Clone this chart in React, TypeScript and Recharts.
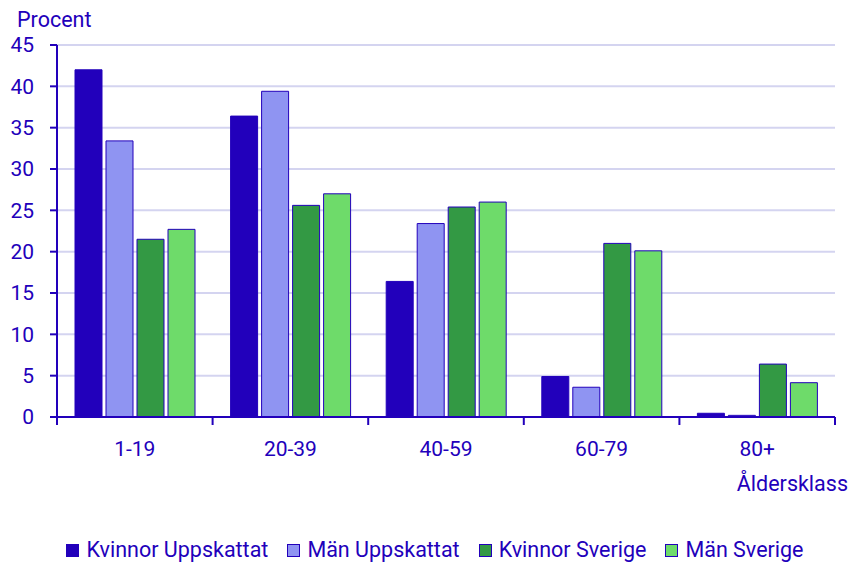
import { BarChart, Bar, XAxis, YAxis, CartesianGrid, Legend } from "recharts";

const ageClasses = ["1-19", "20-39", "40-59", "60-79", "80+"];
const womenEstimated = [42.0, 36.4, 16.4, 4.9, 0.45];
const menEstimated = [33.4, 39.4, 23.4, 3.6, 0.2];
const womenSweden = [21.5, 25.6, 25.4, 21.0, 6.4];
const menSweden = [22.7, 27.0, 26.0, 20.1, 4.15];
const yTicks = [0, 5, 10, 15, 20, 25, 30, 35, 40, 45];

const seriesNames = ["Kvinnor Uppskattat", "Män Uppskattat", "Kvinnor Sverige", "Män Sverige"];
const seriesColors = ["#2200bb", "#8f94f2", "#339944", "#6edb6a"];

const data = ageClasses.map((age, i) => ({
  age,
  kvU: womenEstimated[i],
  manU: menEstimated[i],
  kvS: womenSweden[i],
  manS: menSweden[i],
}));
const keys = ["kvU", "manU", "kvS", "manS"];

const INK = "#2200bb";
const GRID = "#d4d4f0";
const FONT = "Roboto, sans-serif";
const FS = 21;

function XTick(props: any) {
  const { x, y, payload, index } = props;
  const half = payload?.offset ?? 77.8;
  return (
    <g>
      <line x1={x - half} x2={x - half} y1={y} y2={y + 8} stroke={INK} strokeWidth={2} />
      {index === ageClasses.length - 1 && (
        <line x1={x + half} x2={x + half} y1={y} y2={y + 8} stroke={INK} strokeWidth={2} />
      )}
      <text x={x} y={y + 39} textAnchor="middle" fill={INK} fontSize={FS} fontFamily={FONT}>
        {payload.value}
      </text>
    </g>
  );
}

function LegendBox() {
  return (
    <div
      style={{
        height: 50,
        display: "flex",
        justifyContent: "center",
        alignItems: "flex-end",
        paddingLeft: 35,
        boxSizing: "border-box",
        fontFamily: FONT,
        fontSize: 21.5,
        color: INK,
      }}
    >
      {seriesNames.map((n, i) => (
        <div key={n} style={{ display: "flex", alignItems: "center", marginLeft: i ? 19 : 0, lineHeight: "26px" }}>
          <span
            style={{
              width: 13,
              height: 13,
              background: seriesColors[i],
              border: `1px solid ${INK}`,
              boxSizing: "border-box",
              marginRight: 7,
              display: "inline-block",
            }}
          />
          {n}
        </div>
      ))}
    </div>
  );
}

export default function App() {
  return (
    <div style={{ position: "absolute", left: 0, top: 0, background: "#fff" }}>
      <BarChart
        width={858}
        height={563}
        data={data}
        margin={{ top: 45, right: 23, left: 0, bottom: 0 }}
        barCategoryGap={18}
        barGap={4}
      >
        <CartesianGrid vertical={false} stroke={GRID} strokeWidth={2} />
        <XAxis
          dataKey="age"
          height={96}
          tickLine={false}
          tickSize={0}
          tickMargin={0}
          axisLine={{ stroke: INK, strokeWidth: 2 }}
          tick={<XTick />}
          interval={0}
          label={({ viewBox }: any) => (
            <text
              x={viewBox.x + viewBox.width + 13}
              y={viewBox.y + 74}
              textAnchor="end"
              fill={INK}
              fontSize={21.5}
              fontFamily={FONT}
            >
              Åldersklass
            </text>
          )}
        />
        <YAxis
          width={57}
          domain={[0, 45]}
          ticks={yTicks}
          interval={0}
          tickSize={7}
          tickMargin={16}
          tickLine={{ stroke: INK, strokeWidth: 2 }}
          axisLine={{ stroke: INK, strokeWidth: 2 }}
          tick={{ fill: INK, fontSize: FS, fontFamily: FONT }}
          label={({ viewBox }: any) => (
            <text x={viewBox.x + 17} y={viewBox.y - 18} fill={INK} fontSize={21.5} fontFamily={FONT}>
              Procent
            </text>
          )}
        />
        <YAxis
          yAxisId="right"
          orientation="right"
          width={0}
          domain={[0, 45]}
          tick={false}
          tickLine={false}
          axisLine={{ stroke: GRID, strokeWidth: 2 }}
        />
        <Legend verticalAlign="bottom" content={<LegendBox />} />
        {keys.map((k, i) => (
          <Bar
            key={k}
            dataKey={k}
            name={seriesNames[i]}
            fill={seriesColors[i]}
            stroke={INK}
            strokeWidth={1}
            isAnimationActive={false}
          />
        ))}
      </BarChart>
    </div>
  );
}
